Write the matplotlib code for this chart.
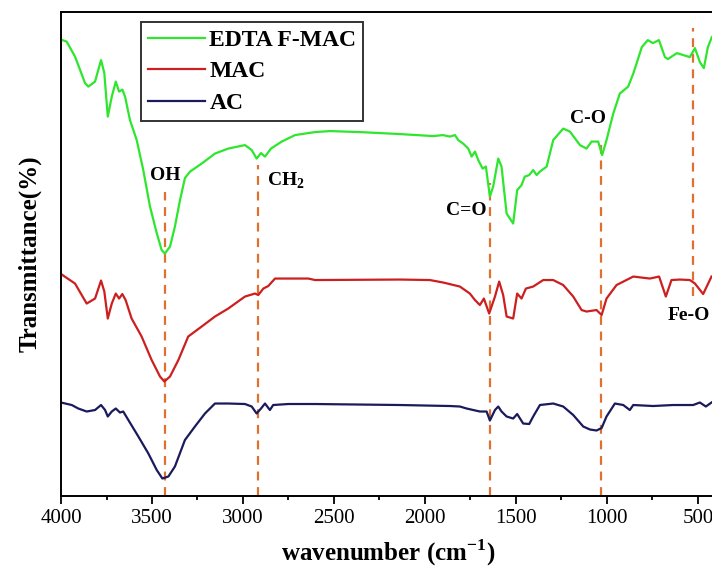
import numpy as np
import matplotlib.pyplot as plt
from matplotlib.ticker import MultipleLocator

# FTIR spectra (wavenumber in cm-1, transmittance in a.u., offset stacked)
edta_wn = [4000, 3969, 3923, 3868, 3850, 3813, 3780, 3762, 3743, 3721, 3699, 3681, 3663, 3648,
           3621, 3584, 3548, 3511, 3474, 3447, 3429, 3401, 3374, 3346, 3319, 3291, 3227, 3154,
           3081, 2989, 2952, 2925, 2901, 2879, 2846, 2787, 2714, 2604, 2522, 2357, 2137, 1954,
           1901, 1863, 1835, 1817, 1790, 1762, 1743, 1725, 1707, 1683, 1665, 1643, 1625, 1597,
           1579, 1551, 1515, 1493, 1469, 1451, 1427, 1405, 1386, 1368, 1331, 1295, 1240, 1203,
           1148, 1112, 1084, 1048, 1026, 1002, 965, 929, 883, 855, 808, 775, 747, 714, 681, 665,
           615, 544, 516, 489, 467, 445, 423]
edta_t = [91.3, 90.9, 87.9, 82.6, 81.9, 82.9, 87.2, 84.6, 75.9, 79.9, 82.9, 80.9, 81.3, 79.9,
          75.2, 71.2, 65.2, 57.9, 52.6, 49.2, 48.5, 49.9, 53.9, 59.2, 63.6, 64.9, 66.5, 68.5,
          69.5, 70.2, 69.2, 67.5, 68.6, 67.9, 69.5, 70.9, 72.2, 72.8, 73.0, 72.8, 72.4, 72.0,
          72.2, 71.9, 72.2, 71.2, 70.5, 69.5, 67.9, 68.9, 67.2, 65.5, 65.9, 59.9, 61.9, 67.5,
          65.9, 56.5, 54.5, 61.2, 62.2, 63.9, 64.2, 65.2, 64.2, 64.9, 65.9, 71.2, 73.5, 72.9,
          70.2, 69.5, 70.9, 70.9, 68.2, 71.2, 76.5, 80.5, 81.9, 84.5, 89.8, 91.2, 90.6, 91.2, 87.8, 87.4,
          88.6, 87.8, 89.6, 86.8, 85.6, 89.8, 91.8]

mac_wn = [4000, 3923, 3859, 3813, 3780, 3762, 3743, 3721, 3699, 3681, 3663, 3645, 3612, 3557,
          3502, 3456, 3432, 3401, 3355, 3301, 3227, 3154, 3081, 2989, 2934, 2916, 2888, 2861,
          2824, 2751, 2641, 2604, 2137, 1973, 1899, 1808, 1753, 1725, 1698, 1676, 1647, 1615,
          1592, 1570, 1551, 1515, 1493, 1469, 1445, 1405, 1350, 1295, 1240, 1185, 1139, 1112,
          1057, 1029, 1002, 947, 855, 764, 713, 676, 645, 599, 544, 516, 471, 425]
mac_t = [44.4, 42.5, 38.5, 39.5, 43.1, 40.9, 35.5, 38.5, 40.5, 39.5, 40.4, 39.2, 35.5, 31.9,
         27.2, 23.9, 22.9, 23.9, 27.2, 31.9, 33.9, 35.9, 37.5, 39.9, 40.5, 40.2, 41.5, 42.0,
         43.5, 43.5, 43.5, 43.2, 43.3, 43.2, 42.7, 41.9, 40.5, 39.2, 38.2, 39.5, 36.5, 39.9,
         42.9, 40.2, 35.9, 35.5, 40.5, 39.5, 41.5, 41.9, 43.2, 43.2, 42.2, 39.9, 37.2, 36.9,
         37.2, 36.2, 39.5, 42.2, 43.9, 43.5, 43.9, 39.9, 43.2, 43.3, 43.2, 42.5, 40.4, 43.9]

ac_wn = [4000, 3941, 3905, 3859, 3813, 3780, 3758, 3743, 3721, 3699, 3676, 3658, 3630, 3575,
         3520, 3474, 3443, 3410, 3374, 3319, 3264, 3209, 3154, 3081, 2989, 2952, 2925, 2901,
         2879, 2852, 2834, 2751, 2604, 2137, 1863, 1808, 1771, 1698, 1661, 1643, 1615, 1597,
         1579, 1551, 1515, 1493, 1460, 1427, 1405, 1368, 1295, 1240, 1185, 1130, 1093, 1057,
         1029, 1002, 956, 910, 874, 855, 746, 636, 526, 489, 456, 425]
ac_t = [18.7, 18.2, 17.5, 16.9, 17.2, 18.2, 17.2, 15.9, 16.9, 17.5, 16.7, 16.9, 15.2, 11.9,
        8.5, 5.2, 3.5, 3.9, 5.9, 11.2, 13.9, 16.5, 18.5, 18.5, 18.4, 17.9, 16.5, 17.5,
        18.5, 17.2, 18.2, 18.4, 18.4, 18.2, 18.0, 17.9, 17.5, 16.9, 16.9, 15.1, 17.2, 17.9,
        16.9, 15.9, 15.5, 16.4, 14.5, 14.4, 15.9, 18.2, 18.5, 17.9, 16.2, 13.9, 13.3, 13.1,
        13.6, 15.9, 18.5, 18.2, 17.2, 18.2, 18.0, 18.2, 18.2, 18.7, 17.9, 18.7]

# band assignments: position, dashed line top/bottom, label, label position
band_wn = [3430, 2920, 1643, 1030, 527]
band_top = [60.8, 66.2, 62.6, 70.6, 93.6]
band_bottom = [0, 0, 0, 0, 40.0]
band_labels = ['OH', 'CH$_\\mathbf{2}$', 'C=O', 'C-O', 'Fe-O']
label_x = [3429, 2868, 1659, 1104, 665]
label_y = [64.2, 63.0, 57.2, 75.6, 36.2]
label_ha = ['center', 'left', 'right', 'center', 'left']

plt.rcParams['font.family'] = ['Liberation Serif', 'DejaVu Serif']
plt.rcParams['mathtext.fontset'] = 'custom'
plt.rcParams['mathtext.bf'] = 'Liberation Serif:bold'
plt.rcParams['mathtext.rm'] = 'Liberation Serif'

fig = plt.figure(figsize=(7.12, 5.74), dpi=100)
ax = fig.add_axes([0.0857, 0.1359, 0.920, 0.843])

ax.plot(edta_wn, edta_t, color='#2ee62e', lw=1.6, label='EDTA F-MAC')
ax.plot(mac_wn, mac_t, color='#cc1f1f', lw=1.6, label='MAC')
ax.plot(ac_wn, ac_t, color='#1a1a5c', lw=1.6, label='AC')

# dashed band markers
for w, t, b in zip(band_wn, band_top, band_bottom):
    ax.plot([w, w], [b, t], color='#e07030', lw=1.6, ls=(0, (4, 3)), zorder=1)

for lab, x, y, ha in zip(band_labels, label_x, label_y, label_ha):
    ax.text(x, y, lab, ha=ha, va='center', fontsize=14, fontweight='bold')

ax.set_xlim(4000, 400)
ax.set_ylim(0, 96.8)
ax.xaxis.set_major_locator(MultipleLocator(500))
ax.xaxis.set_minor_locator(MultipleLocator(250))
ax.tick_params(axis='x', which='major', direction='out', length=6, width=1.3, labelsize=15)
ax.tick_params(axis='x', which='minor', direction='out', length=3, width=1.3)
ax.set_yticks([])
for s in ax.spines.values():
    s.set_linewidth(1.4)

ax.set_xlabel('wavenumber (cm$^{\\mathbf{-1}}$)', fontsize=18, fontweight='bold', labelpad=7)
ax.set_ylabel('Transmittance(%)', fontsize=18, fontweight='bold', labelpad=14)

leg = ax.legend(loc='upper left', bbox_to_anchor=(0.122, 0.979), fancybox=False,
                edgecolor='black', prop={'weight': 'bold', 'size': 17}, handlelength=2.4,
                handletextpad=0.2, borderpad=0.3, labelspacing=0.42, borderaxespad=0)
leg.get_frame().set_linewidth(1.4)

fig.savefig('out.png', dpi=100)
